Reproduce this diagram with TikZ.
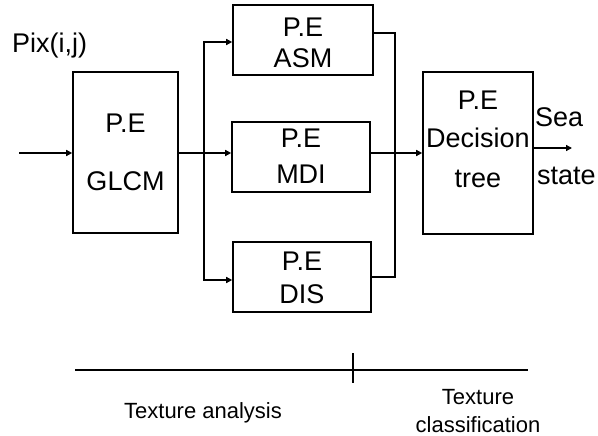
\documentclass[tikz,border=0pt]{standalone}
\usepackage{fontspec}
\setmainfont{Liberation Sans}
\usepackage{xcolor}
\usetikzlibrary{calc,arrows.meta}
\definecolor{ink}{HTML}{000000}
\definecolor{paper}{HTML}{FFFFFF}
\tikzset{
  box/.style={draw=ink, line width=1.6pt, inner sep=0pt},
  wire/.style={draw=ink, line width=1.6pt},
  arr/.style={wire, -{Triangle[length=6pt,width=6pt]}},
  lab/.style={text=ink, font=\fontsize{27}{32}\selectfont, inner sep=0pt, anchor=base},
  labl/.style={lab, anchor=base west},
  labs/.style={text=ink, font=\fontsize{22}{26}\selectfont, inner sep=0pt, anchor=base}
}
\begin{document}
\begin{tikzpicture}[x=1pt,y=-1pt]
  \fill[paper] (0,0) rectangle (598,436);
  \useasboundingbox (0,0) rectangle (598,436);

  % processing elements
  \node[box, minimum width=105pt, minimum height=161pt] (glcm) at (125.5,152.5) {};
  \node[box, minimum width=140pt, minimum height=70pt] (asm) at (303,40) {};
  \node[box, minimum width=138pt, minimum height=70pt] (mdi) at (301,157) {};
  \node[box, minimum width=138pt, minimum height=70pt] (dis) at (302,277) {};
  \node[box, minimum width=110pt, minimum height=162pt] (dtree) at (478,153) {};

  \node[lab] (glcmpe) at (125.5,132) {P.E};
  \node[lab] (glcmname) at (125.5,190) {GLCM};
  \node[lab] (asmpe) at (303,37) {P.E};
  \node[lab] (asmname) at (303,68) {ASM};
  \node[lab] (mdipe) at (301,148) {P.E};
  \node[lab] (mdiname) at (301,183) {MDI};
  \node[lab] (dispe) at (302,270) {P.E};
  \node[lab] (disname) at (302,303) {DIS};
  \node[lab] (dtreepe) at (478,110) {P.E};
  \node[lab] (dtreename) at (478,148) {Decision};
  \node[lab] (dtreetree) at (478,187) {tree};

  % input and output
  \node[labl] (pix) at (12,53) {Pix(i,j)};
  \node[labl] (sea) at (535,127) {Sea};
  \node[labl] (state) at (537,185) {state};
  \coordinate (pin) at (19,153);
  \coordinate (split) at (204,153);
  \coordinate (merge) at (395,153);
  \coordinate (out) at (572,148);

  \draw[arr] (pin) -- (glcm.west |- pin);
  \draw[wire] (glcm.east |- split) -- (split);
  \draw[arr] (split) -- (mdi.west |- split);
  \draw[arr] (split) |- ([yshift=-2pt]asm.west);
  \draw[arr] (split) |- ([yshift=-3pt]dis.west);
  \draw[wire] ([yshift=7pt]asm.east) -| (merge) |- (dis.east);
  \draw[arr] (mdi.east |- merge) -- (dtree.west |- merge);
  \draw[arr] (dtree.east |- out) -- (out);

  % stages
  \coordinate (axl) at (75,370);
  \coordinate (axr) at (528,370);
  \coordinate (ticktop) at (353,353);
  \coordinate (tickbot) at (353,383);
  \draw[wire] (axl) -- (axr);
  \draw[wire] (ticktop) -- (tickbot);
  \node[labs] (analysis) at (203,418) {Texture analysis};
  \node[labs] (classa) at (478,404) {Texture};
  \node[labs] (classb) at (478,432) {classification};
\end{tikzpicture}
\end{document}
